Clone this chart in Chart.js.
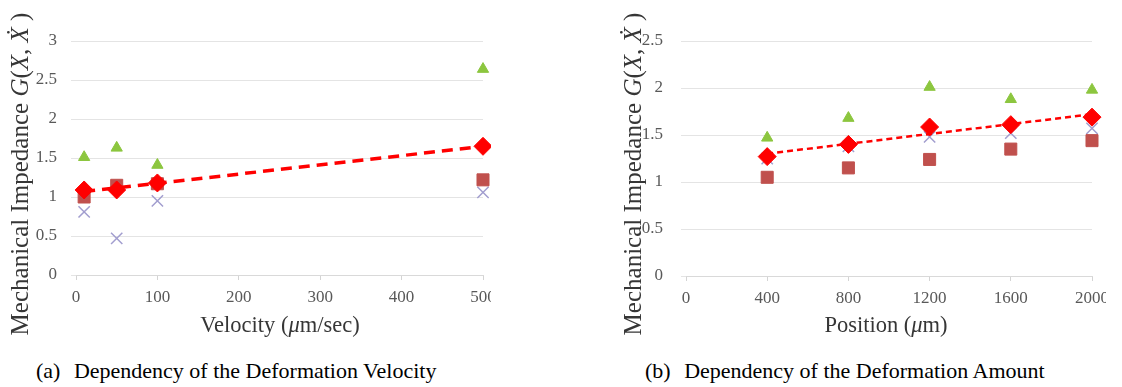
<!DOCTYPE html>
<html>
<head>
<meta charset="utf-8">
<script src="https://cdn.jsdelivr.net/npm/chart.js@4.4.1/dist/chart.umd.min.js"></script>
<style>
  html, body { margin: 0; padding: 0; background: #fff; }
  body { width: 1122px; height: 387px; position: relative; overflow: hidden; }
  .panel { position: absolute; top: 0; height: 345px; overflow: hidden; }
  .caption { position: absolute; top: 360px; font-family: "Liberation Serif", "Times New Roman", serif;
             font-size: 22px; color: #000; white-space: nowrap; line-height: 1; }
  .caption .tag { margin-right: 8px; }
</style>
</head>
<body>
<div class="panel" id="panelA" style="left:0;width:491px;"><canvas id="chartA" width="540" height="345"></canvas></div>
<div class="panel" id="panelB" style="left:580px;width:526px;"><canvas id="chartB" width="560" height="345"></canvas></div>
<div class="caption" style="left:36px;"><span class="tag">(a)</span> Dependency of the Deformation Velocity</div>
<div class="caption" style="left:645px;"><span class="tag">(b)</span> Dependency of the Deformation Amount</div>
<script>
// (a) impedance vs. deformation velocity
const velocity = [10, 50, 100, 500];
const velTriangle = [1.51, 1.63, 1.41, 2.64];
const velSquare = [1.00, 1.15, 1.17, 1.22];
const velDiamond = [1.09, 1.09, 1.18, 1.65];
const velCross = [0.81, 0.47, 0.95, 1.06];
const velXTicks = [0, 100, 200, 300, 400, 500];
const velYTicks = [0, 0.5, 1, 1.5, 2, 2.5, 3];

// (b) impedance vs. deformation amount
const position = [400, 800, 1200, 1600, 2000];
const posTriangle = [1.47, 1.68, 2.01, 1.88, 1.98];
const posSquare = [1.05, 1.15, 1.24, 1.35, 1.44];
const posDiamond = [1.27, 1.40, 1.585, 1.61, 1.69];
const posCross = [1.25, 1.38, 1.48, 1.52, 1.57];
const posXTicks = [0, 400, 800, 1200, 1600, 2000];
const posYTicks = [0, 0.5, 1, 1.5, 2, 2.5];

const SERIF = "'Liberation Serif', 'Times New Roman', serif";
Chart.defaults.font.family = SERIF;
const COL_TRI = '#8CC63F', COL_SQ = '#C0504D', COL_DIA = '#FF0000', COL_X = '#A29ECF';

function pts(xs, ys) { return xs.map((x, i) => ({ x, y: ys[i] })); }

// least-squares line through a series, spanning its x range
function linearFit(xs, ys) {
  const n = xs.length;
  const mx = xs.reduce((a, b) => a + b, 0) / n;
  const my = ys.reduce((a, b) => a + b, 0) / n;
  let sxy = 0, sxx = 0;
  xs.forEach((x, i) => { sxy += (x - mx) * (ys[i] - my); sxx += (x - mx) * (x - mx); });
  const k = sxy / sxx, b = my - k * mx;
  const x0 = Math.min(...xs), x1 = Math.max(...xs);
  return [{ x: x0, y: k * x0 + b }, { x: x1, y: k * x1 + b }];
}

// draws a run of text pieces, some italic, centred on (cx, cy), optionally rotated
function drawRichText(ctx, pieces, cx, cy, size, color, rotate) {
  ctx.save();
  ctx.translate(cx, cy);
  if (rotate) ctx.rotate(-Math.PI / 2);
  ctx.fillStyle = color;
  ctx.textBaseline = 'middle';
  ctx.textAlign = 'left';
  let total = 0;
  const widths = pieces.map(p => {
    ctx.font = (p.it ? 'italic ' : '') + size + 'px ' + SERIF;
    const w = ctx.measureText(p.t).width;
    total += w;
    return w;
  });
  let x = -total / 2;
  pieces.forEach((p, i) => {
    ctx.font = (p.it ? 'italic ' : '') + size + 'px ' + SERIF;
    ctx.fillText(p.t, x, 0);
    x += widths[i];
  });
  ctx.restore();
}

const yTitle = [
  { t: 'Mechanical Impedance ' }, { t: 'G', it: true }, { t: '(' }, { t: 'X', it: true },
  { t: ', ' }, { t: '\u1E8A', it: true }, { t: ' )' }
];

const axisTitles = {
  id: 'axisTitles',
  afterDraw(chart, args, opts) {
    const ctx = chart.ctx;
    drawRichText(ctx, yTitle, opts.yx, opts.yy, 25, '#363636', true);
    drawRichText(ctx, opts.xText, opts.xx, opts.xy, 22.5, '#363636', false);
  }
};

function makeChart(id, cfg) {
  const datasets = [
    { label: 'trend', data: linearFit(cfg.xs, cfg.diamond), showLine: true, pointRadius: 0,
      borderColor: COL_DIA, borderWidth: cfg.trendWidth, borderDash: cfg.trendDash, order: 1 },
    { label: 'diamond', data: pts(cfg.xs, cfg.diamond), pointStyle: 'rectRot', pointRadius: 9,
      backgroundColor: COL_DIA, borderColor: COL_DIA, borderWidth: 1, order: 0 },
    { label: 'triangle', data: pts(cfg.xs, cfg.triangle), pointStyle: 'triangle', pointRadius: 6.5,
      backgroundColor: COL_TRI, borderColor: COL_TRI, borderWidth: 1, order: 2 },
    { label: 'square', data: pts(cfg.xs, cfg.square), pointStyle: 'rect', pointRadius: 8.5,
      backgroundColor: COL_SQ, borderColor: COL_SQ, borderWidth: 1, order: 3 },
    { label: 'cross', data: pts(cfg.xs, cfg.cross), pointStyle: 'crossRot', pointRadius: 8,
      backgroundColor: COL_X, borderColor: COL_X, borderWidth: 1.5, order: 4 }
  ];
  datasets.forEach(d => { d.clip = false; });
  const tickFont = { family: SERIF, size: 17 };
  return new Chart(document.getElementById(id), {
    type: 'scatter',
    data: { datasets },
    plugins: [axisTitles],
    options: {
      responsive: false,
      animation: false,
      events: [],
      layout: { padding: { top: 41, right: cfg.padRight, bottom: 0, left: 0 } },
      plugins: {
        legend: { display: false },
        tooltip: { enabled: false },
        axisTitles: cfg.titles
      },
      scales: {
        x: {
          type: 'linear', min: cfg.xTicks[0], max: cfg.xTicks[cfg.xTicks.length - 1],
          afterBuildTicks: s => { s.ticks = cfg.xTicks.map(v => ({ value: v })); },
          afterFit: s => { s.height = cfg.xHeight; },
          grid: { drawOnChartArea: false, drawTicks: true, tickLength: 5, color: '#D4D4D4' },
          border: { display: true, color: '#D9D9D9', width: 1 },
          ticks: { color: '#595959', padding: 7, maxRotation: 0, autoSkip: false,
                   font: tickFont, callback: v => String(v) }
        },
        y: {
          type: 'linear', min: cfg.yTicks[0], max: cfg.yTicks[cfg.yTicks.length - 1],
          afterBuildTicks: s => { s.ticks = cfg.yTicks.map(v => ({ value: v })); },
          afterFit: s => { s.width = cfg.yWidth; },
          grid: { drawTicks: true, tickLength: 5, color: '#E4E4E4', lineWidth: 1 },
          border: { display: false },
          ticks: { color: '#595959', padding: cfg.yPad, font: tickFont, callback: v => String(v) }
        }
      }
    }
  });
}

makeChart('chartA', {
  xs: velocity, triangle: velTriangle, square: velSquare, diamond: velDiamond, cross: velCross,
  xTicks: velXTicks, yTicks: velYTicks, padRight: 57, xHeight: 70, yWidth: 76, yPad: 14,
  trendWidth: 3.5, trendDash: [11, 7],
  titles: { yx: 21, yy: 174, xx: 280, xy: 326,
            xText: [{ t: 'Velocity (' }, { t: '\u03BC', it: true }, { t: 'm/sec)' }] }
});

makeChart('chartB', {
  xs: position, triangle: posTriangle, square: posSquare, diamond: posDiamond, cross: posCross,
  xTicks: posXTicks, yTicks: posYTicks, padRight: 48, xHeight: 69, yWidth: 106, yPad: 18,
  trendWidth: 2.5, trendDash: [6, 4],
  titles: { yx: 54, yy: 174, xx: 306, xy: 326,
            xText: [{ t: 'Position (' }, { t: '\u03BC', it: true }, { t: 'm)' }] }
});
</script>
</body>
</html>
